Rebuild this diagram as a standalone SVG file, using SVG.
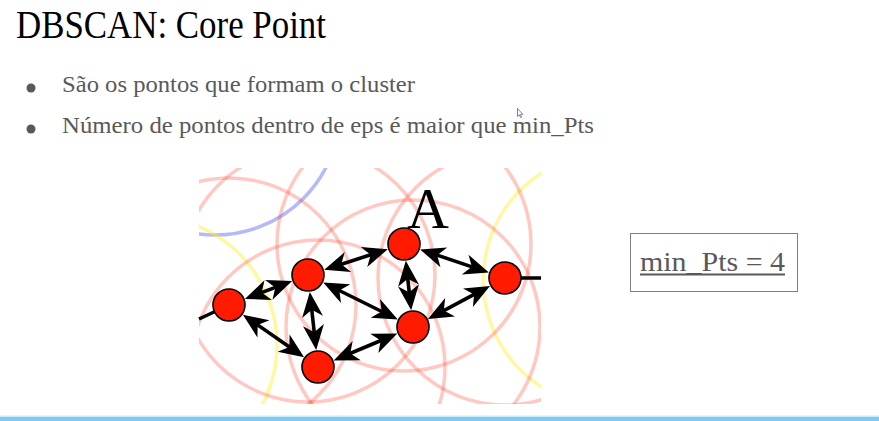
<svg xmlns="http://www.w3.org/2000/svg" width="879" height="421" viewBox="0 0 879 421">
  <style>
    .title { font-family: "Liberation Serif", "DejaVu Serif", serif; font-size: 39px; fill: #000; }
    .bullet { font-family: "Liberation Serif", "DejaVu Serif", serif; font-size: 23.5px; fill: #595959; }
    .dot { fill: #595959; }
    .eps { fill: none; stroke-width: 3.5; }
    .eps-core { stroke: #ff3018; stroke-opacity: 0.26; }
    .eps-border { stroke: #ffee30; stroke-opacity: 0.45; }
    .eps-noise { stroke: #4050f0; stroke-opacity: 0.4; }
    .pt { fill: #ff1a00; stroke: #000; stroke-width: 1.6; }
    .edge { stroke: #000; stroke-width: 3.6; fill: none; }
    .tail { stroke: #000; stroke-width: 3.4; }
    .label { font-family: "Liberation Serif", "DejaVu Serif", serif; font-size: 58px; fill: #000; }
    .minpts { font-family: "Liberation Serif", "DejaVu Serif", serif; font-size: 27px; fill: #595959; }
  </style>
  <defs>
    <clipPath id="pane">
      <rect x="199" y="168" width="342" height="236"/>
    </clipPath>
    <marker id="ah" viewBox="-16 -12 28 24" refX="0" refY="0" markerWidth="28" markerHeight="24" markerUnits="userSpaceOnUse" orient="auto-start-reverse">
      <path d="M10,0 L-15,-10.5 L-8,0 L-15,10.5 Z" fill="#000"/>
    </marker>
  </defs>

  <rect width="879" height="421" fill="#fff"/>

  <!-- heading -->
  <text class="title" x="16" y="38" textLength="310" lengthAdjust="spacingAndGlyphs">DBSCAN: Core Point</text>

  <!-- bullet list -->
  <circle class="dot" cx="31" cy="88" r="4.5"/>
  <text class="bullet" x="62" y="92" textLength="353" lengthAdjust="spacingAndGlyphs">São os pontos que formam o cluster</text>
  <circle class="dot" cx="31" cy="129" r="4.5"/>
  <text class="bullet" x="62" y="133" textLength="532" lengthAdjust="spacingAndGlyphs">Número de pontos dentro de eps é maior que min_Pts</text>

  <!-- mouse pointer -->
  <path d="M517.5,108.5 L517.5,116.5 L519.3,114.8 L520.6,117.6 L521.6,117.1 L520.4,114.4 L522.8,114.3 Z" fill="#fff" stroke="#666" stroke-width="0.8"/>

  <!-- eps neighbourhoods -->
  <g id="neighbourhoods" clip-path="url(#pane)">
    <circle class="eps eps-noise" cx="215" cy="110" r="125"/>
    <circle class="eps eps-border" cx="148" cy="345" r="129"/>
    <circle class="eps eps-border" cx="610" cy="280" r="127"/>
    <circle class="eps eps-core" cx="229" cy="305" r="127"/>
    <circle class="eps eps-core" cx="308" cy="275" r="127"/>
    <circle class="eps eps-core" cx="404" cy="244" r="127"/>
    <circle class="eps eps-core" cx="505" cy="278" r="127"/>
    <circle class="eps eps-core" cx="413" cy="327" r="127"/>
    <circle class="eps eps-core" cx="318" cy="367" r="127"/>
  </g>

  <!-- connectors -->
  <g id="connectors">
    <line class="tail" x1="199" y1="319" x2="229" y2="305"/>
    <line class="tail" x1="505" y1="278" x2="541" y2="278"/>
    <line class="edge" x1="254.2" y1="295.4" x2="282.8" y2="284.6" marker-start="url(#ah)" marker-end="url(#ah)"/>
    <line class="edge" x1="251.1" y1="320.4" x2="295.9" y2="351.6" marker-start="url(#ah)" marker-end="url(#ah)"/>
    <line class="edge" x1="333.7" y1="266.7" x2="378.3" y2="252.3" marker-start="url(#ah)" marker-end="url(#ah)"/>
    <line class="edge" x1="310.9" y1="301.9" x2="315.1" y2="340.1" marker-start="url(#ah)" marker-end="url(#ah)"/>
    <line class="edge" x1="332.2" y1="287.0" x2="388.8" y2="315.0" marker-start="url(#ah)" marker-end="url(#ah)"/>
    <line class="edge" x1="406.9" y1="270.8" x2="410.1" y2="300.2" marker-start="url(#ah)" marker-end="url(#ah)"/>
    <line class="edge" x1="429.6" y1="252.6" x2="479.4" y2="269.4" marker-start="url(#ah)" marker-end="url(#ah)"/>
    <line class="edge" x1="436.8" y1="314.3" x2="481.2" y2="290.7" marker-start="url(#ah)" marker-end="url(#ah)"/>
    <line class="edge" x1="388.1" y1="337.5" x2="342.9" y2="356.5" marker-start="url(#ah)" marker-end="url(#ah)"/>
  </g>

  <!-- core points -->
  <g id="p1"><circle class="pt" cx="229" cy="305" r="16"/></g>
  <g id="p2"><circle class="pt" cx="308" cy="275" r="16"/></g>
  <g id="pA"><circle class="pt" cx="404" cy="244" r="16"/><text class="label" x="428" y="228" text-anchor="middle">A</text></g>
  <g id="p4"><circle class="pt" cx="505" cy="278" r="16"/></g>
  <g id="p5"><circle class="pt" cx="413" cy="327" r="16"/></g>
  <g id="p6"><circle class="pt" cx="318" cy="367" r="16"/></g>

  <!-- parameter box -->
  <g id="minpts-box">
    <rect x="630.5" y="233.5" width="167" height="58" fill="#fff" stroke="#7f7f7f" stroke-width="1"/>
    <text class="minpts" x="640" y="271" textLength="145" lengthAdjust="spacingAndGlyphs">min_Pts = 4</text>
    <rect x="640" y="273.5" width="145" height="2" fill="#595959"/>
  </g>

  <!-- bottom rule -->
  <rect x="0" y="415.5" width="879" height="1.5" fill="#cfeafb"/>
  <rect x="0" y="417" width="879" height="4" fill="#80c9f2"/>
</svg>
